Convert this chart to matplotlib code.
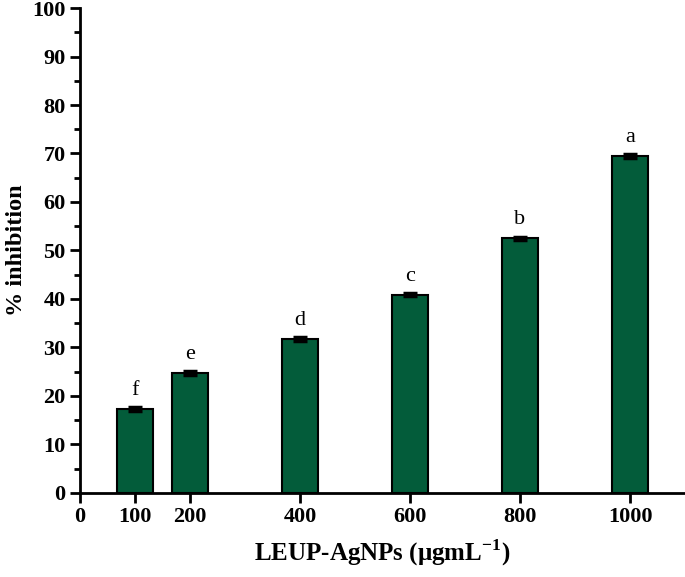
import matplotlib.pyplot as plt
from matplotlib.ticker import MultipleLocator

# data
conc = [100, 200, 400, 600, 800, 1000]
inhibition = [17.3, 24.7, 31.7, 40.9, 52.5, 69.5]
err = [0.35, 0.35, 0.35, 0.35, 0.35, 0.35]
letters = ['f', 'e', 'd', 'c', 'b', 'a']

plt.rcParams['font.family'] = 'Liberation Serif'
plt.rcParams['mathtext.fontset'] = 'custom'
plt.rcParams['mathtext.rm'] = 'Liberation Serif'
plt.rcParams['mathtext.bf'] = 'Liberation Serif:bold'

fig = plt.figure(figsize=(6.85, 5.77), dpi=100)
ax = fig.add_axes([0.117, 0.146, 0.883, 0.84])

ax.bar(conc, inhibition, width=65, color='#035c3a', edgecolor='black', linewidth=1.5,
       yerr=err, capsize=5, error_kw=dict(elinewidth=2, capthick=2.5, ecolor='black'), zorder=2)

for x, y, e, lab in zip(conc, inhibition, err, letters):
    ax.text(x, y + e + 1.5, lab, ha='center', va='bottom', fontsize=16)

ax.set_xlim(0, 1100)
ax.set_ylim(0, 100)
ax.set_xticks([0, 100, 200, 400, 600, 800, 1000])
ax.yaxis.set_major_locator(MultipleLocator(10))
ax.yaxis.set_minor_locator(MultipleLocator(5))

ax.spines['top'].set_visible(False)
ax.spines['right'].set_visible(False)
ax.spines['left'].set_linewidth(2)
ax.spines['bottom'].set_linewidth(2)
ax.tick_params(which='major', direction='out', length=7, width=2, labelsize=16)
ax.tick_params(which='minor', direction='out', length=4, width=2)
for lbl in ax.get_xticklabels() + ax.get_yticklabels():
    lbl.set_fontweight('bold')

ax.set_xlabel('LEUP-AgNPs (\u03bcgmL$^{\\mathbf{-1}}$)', fontsize=18, fontweight='bold', labelpad=7)
ax.set_ylabel('% inhibition', fontsize=17.5, fontweight='bold', labelpad=4)

fig.savefig('out.png', dpi=100)
